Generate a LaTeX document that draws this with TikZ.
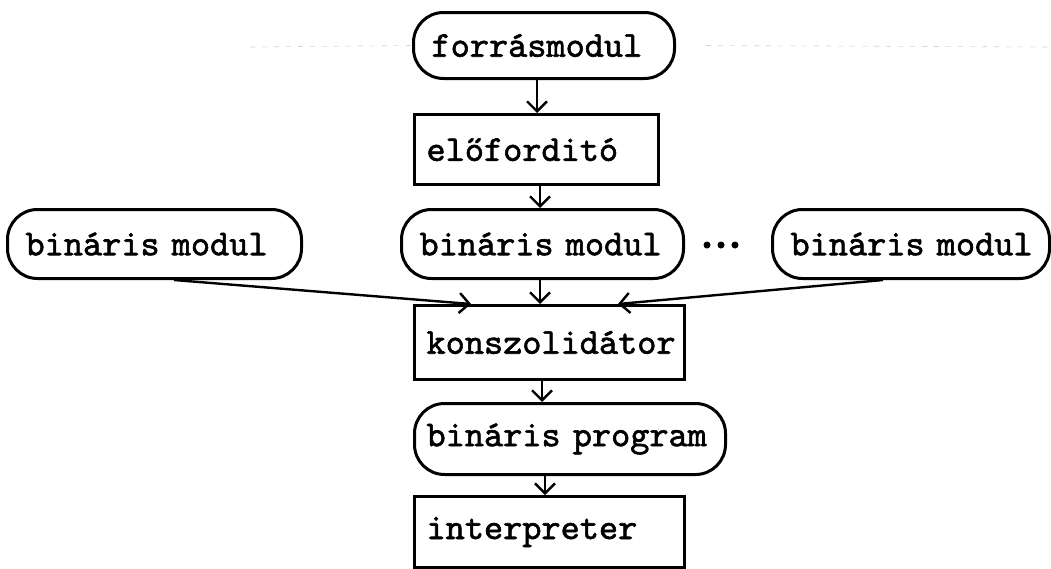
\documentclass[tikz,border=0pt]{standalone}
\usepackage{fontspec}
\newfontfamily\twfont{lmmono10-regular.otf}[FakeBold=1.6]
\protected\def\twspace{\spaceskip=0.525em\relax\xspaceskip=0.525em\relax}
\usetikzlibrary{arrows.meta}
\begin{document}
\begin{tikzpicture}[x=1pt,y=-1pt,
  lbl/.style={font=\twfont\fontsize{36.5}{36.5}\selectfont\twspace},
  procbox/.style={draw, line width=3pt, anchor=north west, inner xsep=12pt, inner ysep=0pt, align=left, lbl},
  termbox/.style={draw, line width=3pt, anchor=north west, rounded corners=30pt, inner xsep=18pt, inner ysep=0pt, align=left, lbl},
  flow/.style={line width=2.4pt, -{Straight Barb[length=10pt,width=20pt,line width=2.4pt]}},
  guide/.style={gray!35, line width=0.6pt, dash pattern=on 5pt off 7pt}]
\useasboundingbox (0,0) rectangle (1051,568);
% faint guide line of the original page
\coordinate (gl1) at (250,47);
\coordinate (gl2) at (1051,47);
% nodes
\node[termbox, minimum height=66pt, text width=225pt] (src) at (412,11) {\mbox{forrásmodul}};
\node[procbox, minimum height=70pt, text width=220pt] (pre) at (413,113) {\mbox{előforditó}};
\node[termbox, minimum height=69pt, text width=258pt] (binL) at (6,208) {\mbox{bináris modul}};
\node[termbox, minimum height=69pt, text width=246pt] (binM) at (400,208) {\mbox{bináris modul}};
\node[termbox, minimum height=69pt, text width=241pt] (binR) at (771,208) {\mbox{bináris modul}};
\node[procbox, minimum height=74pt, text width=246pt] (kons) at (413,304) {\mbox{konszolidátor}};
\node[termbox, inner xsep=12pt, minimum height=71pt, text width=287pt] (prog) at (413,402) {\mbox{bináris program}};
\node[procbox, minimum height=71pt, text width=246pt] (intp) at (413,495) {\mbox{interpreter}};
\node[circle, fill, inner sep=0pt, minimum size=7pt] (d1) at (707,245) {};
\node[circle, fill, inner sep=0pt, minimum size=7pt] (d2) at (721,245) {};
\node[circle, fill, inner sep=0pt, minimum size=7pt] (d3) at (735,245) {};
\draw[guide] (gl1) -- (src.west);
\draw[guide] (src.east) ++(30,0) -- (gl2);
% connectors
\coordinate (s1) at ([xshift=125pt]src.south west);
\draw[flow] (s1) -- (s1 |- pre.north);
\coordinate (s2) at ([xshift=127pt]pre.south west);
\draw[flow] (s2) -- (s2 |- binM.north);
\coordinate (s3) at ([xshift=140pt]binM.south west);
\draw[flow] (s3) -- (s3 |- kons.north);
\coordinate (sL) at ([xshift=168pt]binL.south west);
\draw[flow] (sL) -- ([xshift=58pt]kons.north west);
\coordinate (sR) at ([xshift=112pt]binR.south west);
\draw[flow] (sR) -- ([xshift=205pt]kons.north west);
\coordinate (s4) at ([xshift=129pt]kons.south west);
\draw[flow] (s4) -- (s4 |- prog.north);
\coordinate (s5) at ([xshift=132pt]prog.south west);
\draw[flow] (s5) -- (s5 |- intp.north);
\end{tikzpicture}
\end{document}
